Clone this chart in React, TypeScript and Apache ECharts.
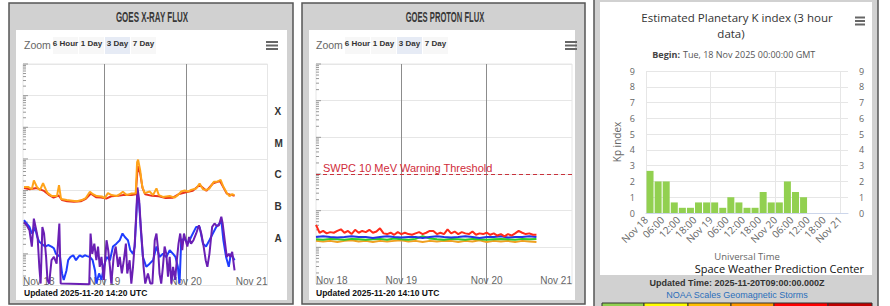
import React, { useEffect, useRef } from 'react';
import * as echarts from 'echarts';

// ---------------- tick / category labels ----------------
const dayTickLabels = ['Nov 18', 'Nov 19', 'Nov 20', 'Nov 21'];
const kpTickLabels = ['Nov 18', '06:00', '12:00', '18:00', 'Nov 19', '06:00', '12:00', '18:00', 'Nov 20', '06:00', '12:00', '18:00', 'Nov 21'];
const flareClassLabels = ['A', 'B', 'C', 'M', 'X'];
const zoomButtonLabels = ['6 Hour', '1 Day', '3 Day', '7 Day'];

// ---------------- GOES X-ray flux (hours after 2025-11-18 00:00 UTC, W/m^2) ----------------
const xrayLongHours = [0.3, 1.5, 2.6, 3.2, 4.1, 5.0, 5.9, 6.8, 7.3, 8.5, 10.0, 10.6, 11.2, 12.9, 14.5, 15.9, 17.3, 18.5, 19.7, 20.6, 21.7, 23.2, 24.1, 25.0, 26.1, 27.6, 28.5, 29.4, 30.5, 32.0, 33.2, 33.6, 33.9, 34.5, 35.1, 35.8, 37.3, 38.3, 39.3, 40.0, 41.2, 43.2, 44.6, 45.6, 46.6, 47.6, 48.6, 49.5, 51.0, 52.0, 53.0, 54.0, 54.9, 56.2, 57.2, 58.2, 59.0, 60.0, 60.8, 61.6, 62.3];
const xrayLongFlux = [1.3e-6, 1.3e-6, 1.1e-6, 2.1e-6, 1.3e-6, 1.03e-6, 1.7e-6, 1.03e-6, 8.3e-7, 6.7e-7, 6.7e-7, 1.48e-6, 5.4e-7, 5.0e-7, 4.8e-7, 4.6e-7, 5.0e-7, 5.8e-7, 9.2e-7, 7.7e-7, 6.7e-7, 6.5e-7, 5.8e-7, 8.3e-7, 7.2e-7, 6.7e-7, 7.7e-7, 9.2e-7, 7.2e-7, 8.1e-7, 8.3e-7, 7.9e-6, 9.5e-6, 4.4e-6, 1.38e-6, 8.3e-7, 9.3e-7, 7.2e-7, 1.17e-6, 7.2e-7, 6.3e-7, 6.7e-7, 6.0e-7, 7.2e-7, 9.3e-7, 1.0e-6, 9.3e-7, 1.05e-6, 1.16e-6, 1.68e-6, 1.1e-6, 1.05e-6, 1.16e-6, 1.9e-6, 1.9e-6, 2.2e-6, 1.32e-6, 8.5e-7, 6.7e-7, 7.7e-7, 7.2e-7];

const xrayLong2Hours = [0.3, 2.0, 4.0, 6.0, 7.5, 9.0, 10.5, 11.5, 13.0, 15.0, 17.0, 18.5, 20.0, 21.5, 23.0, 24.5, 26.0, 28.0, 30.0, 32.0, 33.2, 33.8, 34.5, 35.2, 36.0, 38.0, 40.0, 42.0, 44.0, 46.0, 48.0, 50.0, 52.0, 54.0, 56.0, 58.0, 60.0, 62.3];
const xrayLong2Flux = [1.2e-6, 1.1e-6, 1.2e-6, 1.0e-6, 7.5e-7, 6.0e-7, 7.0e-7, 5.0e-7, 4.6e-7, 4.4e-7, 4.6e-7, 5.5e-7, 8.0e-7, 6.2e-7, 6.0e-7, 5.6e-7, 6.6e-7, 6.8e-7, 7.4e-7, 7.2e-7, 7.6e-7, 6.0e-6, 3.5e-6, 1.2e-6, 7.6e-7, 6.8e-7, 6.6e-7, 5.8e-7, 5.9e-7, 7.8e-7, 8.8e-7, 9.8e-7, 1.5e-6, 9.8e-7, 1.7e-6, 2.0e-6, 8.0e-7, 6.8e-7];

const xrayShortHours = [0.3, 1.1, 1.9, 2.6, 3.2, 3.8, 4.3, 4.8, 5.2, 5.7, 6.2, 6.8, 7.2, 7.7, 8.4, 9.1, 9.9, 10.7, 11.1, 19.5, 19.9, 20.4, 21.0, 21.6, 22.1, 22.6, 23.1, 23.8, 24.6, 25.1, 25.6, 26.0, 26.7, 27.3, 28.0, 28.5, 29.1, 29.7, 30.3, 30.7, 31.4, 31.9, 32.4, 32.9, 33.4, 33.7, 34.2, 34.7, 35.2, 35.5, 36.0, 36.8, 37.5, 38.1, 38.8, 39.3, 39.8, 40.2, 40.7, 41.2, 41.7, 42.2, 42.7, 43.2, 43.7, 44.2, 44.8, 45.3, 45.8, 46.3, 46.9, 47.4, 47.9, 48.4, 48.9, 49.5, 50.2, 51.0, 51.8, 52.5, 53.2, 53.8, 54.3, 54.9, 55.7, 56.4, 57.1, 57.7, 58.4, 58.8, 59.4, 60.0, 60.6, 61.1, 61.6, 62.3];
const xrayShortFlux = [1.0e-7, 8.0e-8, 5.6e-8, 1.7e-8, 1.3e-7, 6.3e-8, 3.4e-8, 3.9e-9, 1.15e-9, 7.1e-8, 4.4e-8, 8.0e-9, 1.5e-9, 1.15e-9, 6.3e-9, 8.0e-9, 4.9e-9, 9.1e-8, 1.15e-9, 1.1e-9, 4.4e-8, 1.0e-8, 2.1e-8, 6.3e-9, 1.7e-8, 3.9e-9, 8.0e-9, 1.5e-9, 2.7e-8, 1.3e-8, 3.9e-9, 1.15e-9, 8.0e-9, 1.7e-8, 3.9e-9, 8.0e-9, 2.4e-9, 6.3e-9, 2.1e-8, 2.4e-9, 6.3e-9, 1.15e-9, 3.9e-9, 2.1e-8, 2.4e-7, 1.25e-6, 5.0e-7, 7.1e-8, 1.3e-8, 3.9e-9, 1.15e-9, 2.4e-9, 1.15e-9, 1.15e-9, 2.7e-8, 4.4e-8, 1.3e-8, 2.4e-9, 1.15e-9, 3.9e-9, 1.7e-8, 1.0e-8, 1.9e-9, 8.0e-9, 1.15e-9, 3.9e-9, 1.5e-9, 6.3e-9, 2.1e-8, 4.4e-8, 1.3e-8, 4.4e-8, 2.7e-8, 1.7e-8, 3.4e-8, 2.1e-8, 2.7e-8, 4.4e-8, 8.0e-8, 4.4e-8, 1.7e-8, 6.3e-9, 3.9e-9, 1.0e-8, 7.1e-8, 9.1e-8, 7.5e-8, 8.0e-8, 1.5e-7, 9.1e-8, 2.7e-8, 8.0e-9, 1.0e-8, 8.0e-9, 1.15e-8, 3.0e-9];

const xrayShort2Hours = [0.3, 1.1, 1.9, 2.6, 3.0, 3.5, 4.2, 4.8, 5.5, 6.5, 7.4, 8.4, 9.1, 9.7, 10.4, 10.9, 11.5, 12.0, 12.8, 13.3, 14.0, 14.8, 15.6, 16.3, 16.7, 17.5, 18.2, 18.9, 19.7, 20.5, 21.2, 21.6, 22.4, 23.1, 23.8, 24.6, 25.6, 26.5, 27.5, 28.5, 29.3, 30.0, 30.9, 31.6, 32.4, 32.9, 33.4, 33.7, 34.2, 34.7, 35.3, 36.3, 37.3, 38.3, 39.3, 40.2, 41.2, 42.2, 43.2, 44.2, 44.9, 45.6, 46.1, 46.6, 47.6, 48.6, 49.5, 51.0, 52.0, 53.0, 53.9, 54.9, 55.9, 56.9, 57.9, 58.4, 59.0, 59.8, 60.6, 61.2, 61.8, 62.3];
const xrayShort2Flux = [1.16e-7, 9.1e-8, 7.1e-8, 4.4e-8, 4.9e-8, 7.1e-8, 3.4e-8, 2.4e-8, 2.1e-8, 1.7e-8, 1.9e-8, 1.7e-8, 1.5e-8, 1.0e-8, 9.0e-9, 8.0e-9, 2.4e-9, 1.5e-9, 3.0e-9, 6.3e-9, 8.0e-9, 9.0e-9, 6.3e-9, 8.0e-9, 9.0e-9, 8.0e-9, 9.0e-9, 8.5e-9, 8.0e-9, 6.3e-9, 3.0e-9, 1.15e-9, 2.4e-9, 1.5e-9, 3.9e-9, 8.0e-9, 6.3e-9, 1.7e-8, 2.1e-8, 2.7e-8, 4.4e-8, 3.4e-8, 2.7e-8, 1.3e-8, 1.0e-8, 1.7e-8, 1.9e-7, 8.0e-7, 4.0e-7, 5.6e-8, 8.0e-9, 3.9e-9, 4.9e-9, 6.3e-9, 1.7e-8, 8.0e-9, 1.0e-8, 8.0e-9, 1.3e-8, 1.0e-8, 8.0e-9, 3.9e-9, 1.15e-9, 2.7e-8, 3.0e-8, 2.1e-8, 3.4e-8, 7.1e-8, 7.1e-8, 2.1e-8, 1.7e-8, 2.7e-8, 4.4e-8, 7.1e-8, 9.1e-8, 1.16e-7, 2.7e-8, 8.0e-9, 3.9e-9, 1.0e-8, 8.0e-9, 6.3e-9];

// ---------------- GOES proton flux (hours after 2025-11-18 00:00 UTC, pfu) ----------------
const proton10Hours = [0, 1, 2, 3, 4, 5, 6, 7, 8, 9, 10, 11, 12, 13, 14, 15, 16, 17, 18, 19, 20, 21, 22, 23, 24, 25, 26, 27, 28, 29, 30, 31, 32, 33, 34, 35, 36, 37, 38, 39, 40, 41, 42, 43, 44, 45, 46, 47, 48, 49, 50, 51, 52, 53, 54, 55, 56, 57, 58, 59, 60, 61, 62];
const proton10Flux = [0.41, 0.25, 0.28, 0.24, 0.26, 0.25, 0.28, 0.31, 0.25, 0.28, 0.23, 0.30, 0.25, 0.28, 0.26, 0.30, 0.25, 0.27, 0.33, 0.24, 0.23, 0.25, 0.22, 0.26, 0.23, 0.25, 0.23, 0.22, 0.24, 0.26, 0.23, 0.25, 0.28, 0.28, 0.23, 0.25, 0.23, 0.31, 0.24, 0.27, 0.23, 0.26, 0.24, 0.23, 0.27, 0.22, 0.24, 0.23, 0.25, 0.22, 0.24, 0.21, 0.23, 0.20, 0.23, 0.21, 0.24, 0.28, 0.25, 0.23, 0.24, 0.22, 0.22];
const protonHours = [0, 2, 4, 6, 8, 10, 12, 14, 16, 18, 20, 22, 24, 26, 28, 30, 32, 34, 36, 38, 40, 42, 44, 46, 48, 50, 52, 54, 56, 58, 60, 62];
const proton50Flux = [0.19, 0.2, 0.19, 0.185, 0.19, 0.2, 0.19, 0.19, 0.18, 0.19, 0.2, 0.19, 0.185, 0.19, 0.19, 0.18, 0.19, 0.2, 0.19, 0.185, 0.19, 0.2, 0.19, 0.18, 0.19, 0.19, 0.2, 0.185, 0.19, 0.19, 0.2, 0.19];
const proton100Flux = [0.165, 0.16, 0.17, 0.165, 0.16, 0.17, 0.165, 0.16, 0.165, 0.17, 0.16, 0.175, 0.165, 0.16, 0.17, 0.2, 0.175, 0.165, 0.16, 0.17, 0.165, 0.16, 0.17, 0.165, 0.16, 0.165, 0.17, 0.165, 0.16, 0.17, 0.165, 0.17];
const proton500Flux = [0.15, 0.145, 0.15, 0.14, 0.15, 0.155, 0.145, 0.15, 0.14, 0.15, 0.145, 0.15, 0.155, 0.145, 0.15, 0.14, 0.15, 0.145, 0.15, 0.15, 0.14, 0.15, 0.145, 0.155, 0.14, 0.15, 0.145, 0.15, 0.14, 0.15, 0.145, 0.14];
const protonThreshold = 10;
const protonThresholdLabel = 'SWPC 10 MeV Warning Threshold';

// ---------------- Estimated Planetary K index (3-hour intervals) ----------------
const kpStartHours = [0, 3, 6, 9, 12, 15, 18, 21, 24, 27, 30, 33, 36, 39, 42, 45, 48, 51, 54, 57];
const kpValues = [2.67, 2, 2, 0.67, 0.33, 0.33, 0.67, 0.67, 0.67, 0.33, 1, 0.67, 0.33, 0.33, 1.33, 0.67, 0.67, 2, 1.33, 1];

const zip = (xs: number[], ys: number[]) => xs.slice(0, Math.min(xs.length, ys.length)).map((x, i) => [x, ys[i]]);

const logTicks = (minExp: number, maxExp: number, minor: boolean) => {
  const out: number[][] = [];
  for (let e = minExp; e <= maxExp; e++) {
    if (!minor) out.push([0, Math.pow(10, e)]);
    else if (e < maxExp) for (let k = 2; k <= 9; k++) out.push([0, k * Math.pow(10, e)]);
  }
  return out;
};

const tickSeries = (xi: number, yi: number, data: number[][], len: number) => ({
  type: 'custom',
  xAxisIndex: xi,
  yAxisIndex: yi,
  silent: true,
  z: 3,
  data,
  renderItem: (_p: any, api: any) => {
    const p = api.coord([api.value(0), api.value(1)]);
    return { type: 'line', shape: { x1: p[0], y1: p[1], x2: p[0] + len, y2: p[1] }, style: { stroke: '#999', lineWidth: 1 } };
  },
});

const F = 'Liberation Sans, Arial, sans-serif';
const OS = 'Open Sans, Liberation Sans, sans-serif';

const txt = (x: number, y: number, text: string, font: string, fill: string, align = 'left', extra: any = {}) => ({
  type: 'text', x, y, z: 50, ...extra,
  style: { text, font, fill, textAlign: align, textVerticalAlign: 'middle' },
});

const hamburger = (x: number, y: number, w: number, gap: number) =>
  [0, 1, 2].map((i) => ({ type: 'rect', z: 50, shape: { x, y: y + i * gap, width: w, height: 2 }, style: { fill: '#666' } }));

const zoomRow = (ox: number) => {
  const els: any[] = [txt(24 + ox, 44.5, 'Zoom', `10.5px ${F}`, '#666')];
  zoomButtonLabels.forEach((label, i) => {
    const bx = 53 + ox + i * 26;
    els.push({ type: 'rect', z: 40, shape: { x: bx, y: 37, width: 25, height: 17 }, style: { fill: i === 2 ? '#e6ebf5' : '#f7f7f7' } });
    els.push(txt(bx + 12.5, 43.5, label, `bold 8px ${F}`, '#333', 'center'));
  });
  return els;
};

const lineSeries = (xi: number, yi: number, data: number[][], color: string, extra: any = {}) => ({
  type: 'line', xAxisIndex: xi, yAxisIndex: yi, data, showSymbol: false, symbol: 'none', silent: true,
  lineStyle: { color, width: 2 }, itemStyle: { color }, ...extra,
});

const dayAxis = (gi: number) => ({
  gridIndex: gi, type: 'value', min: 0, max: 72, interval: 24,
  axisLine: { show: false }, axisTick: { show: false },
  splitLine: { show: true, showMinLine: false, showMaxLine: false, lineStyle: { color: '#8c8c8c', width: 1 } },
  axisLabel: {
    formatter: (v: number) => dayTickLabels[Math.round(v / 24)] ?? '',
    color: '#666', fontSize: 10, fontFamily: F, margin: -9, alignMinLabel: 'left', alignMaxLabel: 'right',
  },
});

function buildOption(): any {
  const scaleColors = ['#92d050', '#ffff00', '#ffc000', '#ff9a00', '#ff0000', '#c00000'];
  const scaleEdges = [602, 644, 688, 731, 774, 828, 872];
  const graphic: any[] = [
    // panels
    { type: 'rect', z: -10, shape: { x: 9, y: 3, width: 284, height: 301 }, style: { fill: '#d1d1d1', stroke: '#555', lineWidth: 1.5 } },
    { type: 'rect', z: -9, shape: { x: 16, y: 30, width: 271, height: 270 }, style: { fill: '#fff' } },
    { type: 'rect', z: -10, shape: { x: 302, y: 3, width: 283, height: 301 }, style: { fill: '#d1d1d1', stroke: '#555', lineWidth: 1.5 } },
    { type: 'rect', z: -9, shape: { x: 309, y: 30, width: 266, height: 270 }, style: { fill: '#fff' } },
    { type: 'rect', z: -10, shape: { x: 594, y: -3, width: 284, height: 312 }, style: { fill: '#d1d1d1', stroke: '#555', lineWidth: 1.5 } },
    { type: 'rect', z: -9, shape: { x: 600, y: 2, width: 272, height: 273 }, style: { fill: '#fff' } },
    // panel titles
    txt(152, 17, 'GOES X-RAY FLUX', `bold 14px ${F}`, '#383838', 'center', { scaleX: 0.57 }),
    txt(445, 17, 'GOES PROTON FLUX', `bold 14px ${F}`, '#383838', 'center', { scaleX: 0.545 }),
    ...zoomRow(0),
    ...zoomRow(292),
    ...hamburger(266, 41, 12, 3.5),
    ...hamburger(565, 41, 12, 3.5),
    ...hamburger(855, 16.5, 10, 3.5),
    txt(24, 292.5, 'Updated 2025-11-20 14:20 UTC', `bold 8.5px ${F}`, '#111'),
    txt(316, 292.5, 'Updated 2025-11-20 14:10 UTC', `bold 8.5px ${F}`, '#111'),
    // Kp panel texts
    txt(737, 17, 'Estimated Planetary K index (3 hour', `11.5px ${OS}`, '#333', 'center'),
    txt(731, 33, 'data)', `11.5px ${OS}`, '#333', 'center'),
    txt(680, 54, 'Begin:', `bold 9px ${OS}`, '#444', 'right'),
    txt(683, 54, 'Tue, 18 Nov 2025 00:00:00 GMT', `9px ${OS}`, '#555', 'left'),
    txt(864, 268.5, 'Space Weather Prediction Center', `11px ${OS}`, '#111', 'right'),
    txt(737, 283, 'Updated Time: 2025-11-20T09:00:00.000Z', `bold 9px ${F}`, '#333', 'center'),
    txt(737, 295, 'NOAA Scales Geomagnetic Storms', `9px ${F}`, '#2a6ebb', 'center'),
  ];
  scaleColors.forEach((c, i) => {
    graphic.push({ type: 'rect', z: 40, shape: { x: scaleEdges[i], y: 303, width: scaleEdges[i + 1] - scaleEdges[i], height: 6 }, style: { fill: c, stroke: '#333', lineWidth: 1 } });
  });

  return {
    animation: false,
    textStyle: { fontFamily: F },
    graphic,
    grid: [
      { left: 23, top: 64, width: 244.5, height: 221.5, show: true, borderColor: '#e6e6e6', borderWidth: 1, backgroundColor: 'rgba(0,0,0,0)' },
      { left: 316, top: 64, width: 256, height: 220, show: true, borderColor: '#e6e6e6', borderWidth: 1, backgroundColor: 'rgba(0,0,0,0)' },
      { left: 646, top: 71, width: 202, height: 142 },
    ],
    xAxis: [
      dayAxis(0),
      dayAxis(1),
      {
        gridIndex: 2, type: 'value', min: 0, max: 75, interval: 6,
        axisLine: { show: true, lineStyle: { color: '#ccd6eb' } }, axisTick: { show: false }, splitLine: { show: false },
        axisLabel: {
          rotate: 45, margin: 5, color: '#666', fontSize: 10, fontFamily: OS,
          formatter: (v: number) => (v <= 72 ? kpTickLabels[Math.round(v / 6)] ?? '' : ''),
        },
        name: 'Universal Time', nameLocation: 'middle', nameGap: 38,
        nameTextStyle: { color: '#666', fontSize: 9.5, fontFamily: OS },
      },
      {
        gridIndex: 2, type: 'value', min: 0, max: 75, interval: 24, position: 'top',
        axisLine: { show: false }, axisTick: { show: false }, axisLabel: { show: false },
        splitLine: { show: true, showMaxLine: false, lineStyle: { color: '#e6e6e6' } },
      },
    ],
    yAxis: [
      {
        gridIndex: 0, type: 'log', logBase: 10, min: 1e-9, max: 1e-2, splitNumber: 7,
        axisLabel: { show: false }, axisLine: { show: false }, axisTick: { show: false },
        splitLine: { show: true, lineStyle: { color: '#e6e6e6' } },
      },
      {
        gridIndex: 0, type: 'value', position: 'right', min: 0, max: 7, interval: 0.5,
        axisLine: { show: false }, axisTick: { show: false }, splitLine: { show: false },
        axisLabel: {
          margin: 7, color: '#333', fontSize: 10, fontWeight: 'bold', fontFamily: F,
          formatter: (v: number) => {
            const i = v - 1.5;
            return Number.isInteger(i) && i >= 0 && i < flareClassLabels.length ? flareClassLabels[i] : '';
          },
        },
      },
      {
        gridIndex: 1, type: 'log', logBase: 10, min: 1e-2, max: 1e4, splitNumber: 6,
        axisLabel: { show: false }, axisLine: { show: false }, axisTick: { show: false },
        splitLine: { show: true, lineStyle: { color: '#e6e6e6' } },
      },
      {
        gridIndex: 2, type: 'value', min: 0, max: 9, interval: 1,
        axisLine: { show: false }, axisTick: { show: false },
        splitLine: { show: true, lineStyle: { color: '#e6e6e6' } },
        axisLabel: { margin: 11, color: '#666', fontSize: 9, fontFamily: OS },
        name: 'Kp index', nameLocation: 'middle', nameGap: 24, nameRotate: 90,
        nameTextStyle: { color: '#666', fontSize: 10, fontFamily: OS },
      },
      {
        gridIndex: 2, type: 'value', position: 'right', min: 0, max: 9, interval: 1,
        axisLine: { show: false }, axisTick: { show: false }, splitLine: { show: false },
        axisLabel: { margin: 11, color: '#666', fontSize: 9, fontFamily: OS },
      },
    ],
    series: [
      // X-ray
      lineSeries(0, 0, zip(xrayShort2Hours, xrayShort2Flux), '#1f3dff'),
      lineSeries(0, 0, zip(xrayShortHours, xrayShortFlux), '#6a1fb4'),
      lineSeries(0, 0, zip(xrayLong2Hours, xrayLong2Flux), '#e8321e'),
      lineSeries(0, 0, zip(xrayLongHours, xrayLongFlux), '#ffa31a'),
      tickSeries(0, 0, logTicks(-9, -2, true), 3),
      tickSeries(0, 0, logTicks(-9, -2, false), 5),
      // Protons
      lineSeries(1, 2, zip(protonHours, proton500Flux), '#f0a020'),
      lineSeries(1, 2, zip(protonHours, proton100Flux), '#2ccc2c'),
      lineSeries(1, 2, zip(protonHours, proton50Flux), '#2233e6'),
      lineSeries(1, 2, zip(proton10Hours, proton10Flux), '#ff2a1a', {
        markLine: {
          silent: true, symbol: 'none',
          lineStyle: { color: '#c8323c', type: [4, 3], width: 1 },
          label: { show: true, position: 'insideStartTop', formatter: protonThresholdLabel, color: '#d02b3a', fontSize: 11, fontFamily: F, distance: [7, 1] },
          data: [{ yAxis: protonThreshold }],
        },
      }),
      tickSeries(1, 2, logTicks(-2, 4, true), 3),
      tickSeries(1, 2, logTicks(-2, 4, false), 5),
      // Kp
      {
        type: 'bar', xAxisIndex: 2, yAxisIndex: 3, barWidth: 7, silent: true,
        itemStyle: { color: '#92d050' },
        data: zip(kpStartHours.map((h) => h + 1.5), kpValues),
      },
    ],
  };
}

export default function App() {
  const ref = useRef<HTMLDivElement>(null);
  useEffect(() => {
    const el = ref.current;
    if (!el) return;
    const chart = echarts.init(el, undefined, { renderer: 'svg' });
    chart.setOption(buildOption());
    return () => chart.dispose();
  }, []);
  return <div ref={ref} style={{ position: 'fixed', left: 0, top: 0, width: 890, height: 306, background: '#fff' }} />;
}
